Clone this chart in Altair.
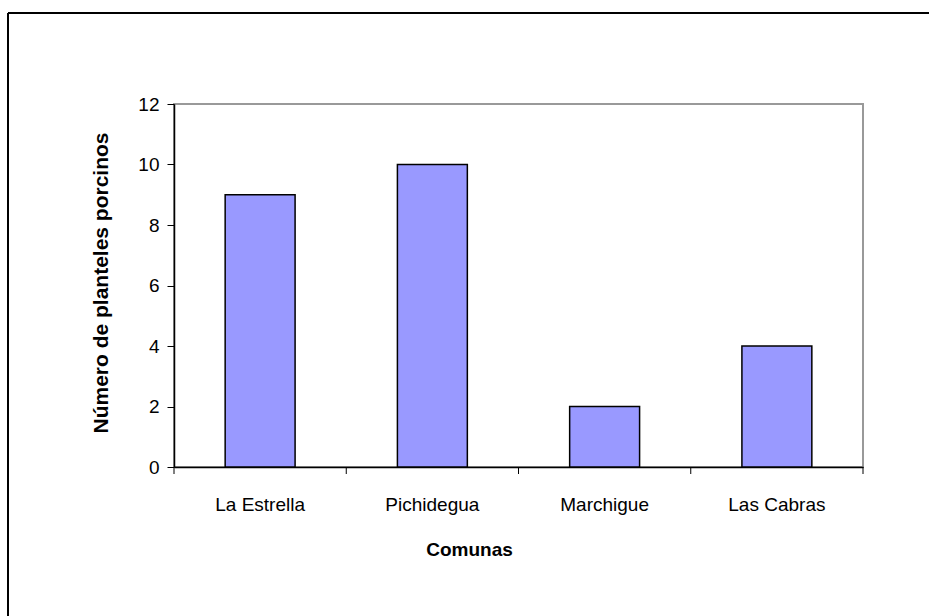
import altair as alt
import pandas as pd

comunas = ["La Estrella", "Pichidegua", "Marchigue", "Las Cabras"]
planteles = [9, 10, 2, 4]
boundaries = [0, 1, 2, 3, 4]
y_ticks = [0, 2, 4, 6, 8, 10, 12]

df = pd.DataFrame({"Comuna": comunas, "Planteles": planteles})
df_b = pd.DataFrame({"b": boundaries})

W, H = 689, 363
FONT = "Liberation Sans"

bars = alt.Chart(df).mark_bar(fill="#9999FF", stroke="black", strokeWidth=1.5).encode(
    x=alt.X(
        "Comuna:N",
        sort=comunas,
        scale=alt.Scale(paddingInner=0.594, paddingOuter=0.297),
        axis=alt.Axis(
            title="Comunas",
            labelAngle=0,
            ticks=False,
            domain=True,
            domainColor="black",
            domainWidth=1.5,
            labelPadding=28,
            labelFontSize=19,
            labelFont=FONT,
            labelColor="black",
            titleFont=FONT,
            titleFontSize=19,
            titleFontWeight="bold",
            titleColor="black",
            titleX=295,
            titleY=88,
            titleBaseline="alphabetic",
            titleAlign="center",
        ),
    ),
    y=alt.Y(
        "Planteles:Q",
        scale=alt.Scale(domain=[0, 12], nice=False),
        axis=alt.Axis(
            values=y_ticks,
            title="Número de planteles porcinos",
            grid=False,
            domainColor="black",
            domainWidth=1.5,
            tickColor="black",
            tickSize=7,
            tickWidth=1,
            labelPadding=8,
            labelFontSize=19,
            labelFont=FONT,
            labelColor="black",
            titleFont=FONT,
            titleFontSize=21,
            titleFontWeight="bold",
            titleColor="black",
            titleAngle=270,
            titleX=-73,
            titleY=H / 2 - 3,
            titleAlign="center",
            titleBaseline="middle",
        ),
    ),
)

ticks = alt.Chart(df_b).mark_rule(color="black", strokeWidth=1).encode(
    x=alt.X("b:Q", scale=alt.Scale(domain=[0, 4], nice=False), axis=None),
    y=alt.value(H),
    y2=alt.value(H + 7),
)

frame_top = alt.Chart(df_b).mark_rule(color="black", strokeWidth=2).encode(
    x=alt.value(-166), x2=alt.value(760), y=alt.value(-91)
)
frame_left = alt.Chart(df_b).mark_rule(color="black", strokeWidth=2).encode(
    x=alt.value(-166), y=alt.value(-91), y2=alt.value(520)
)

chart = (
    alt.layer(bars, ticks, frame_top, frame_left)
    .resolve_scale(x="independent")
    .properties(
        width=W,
        height=H,
        autosize=alt.AutoSizeParams(type="none"),
        padding={"left": 174, "top": 104, "right": 66, "bottom": 149},
        background="white",
    )
    .configure_view(stroke="#999999", strokeWidth=2)
)

chart.save("out.html", embed_options={"renderer": "svg", "actions": False})
